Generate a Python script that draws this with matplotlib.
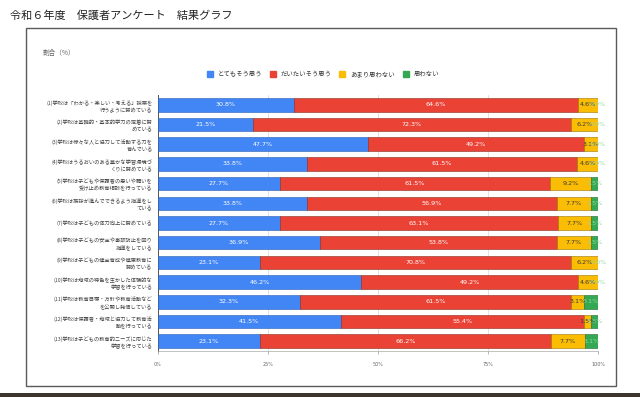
import matplotlib
matplotlib.use("Agg")
import matplotlib.pyplot as plt
from matplotlib.lines import Line2D
from matplotlib.patches import Rectangle
import numpy as np

plt.rcParams['font.family'] = ['Noto Sans CJK JP', 'DejaVu Sans']

title = "令和６年度　保護者アンケート　結果グラフ"
categories = [
    "(1)学校は「わかる・楽しい・考える」授業を\n行うように努めている",
    "(2)学校は基礎的・基本的学力の定着に努\nめている",
    "(3)学校は様々な人と協力して活動する力を\n育んでいる",
    "(4)学校はうるおいのある豊かな学習環境づ\nくりに努めている",
    "(5)学校は子どもや保護者の思いや願いを\n受け止め教育相談を行っている",
    "(6)学校は挨拶が進んでできるよう指導をし\nている",
    "(7)学校は子どもの体力向上に努めている",
    "(8)学校は子どもの安全や事故防止を図り\n指導をしている",
    "(9)学校は子どもの健全育成や健康教育に\n努めている",
    "(10)学校は地域の特色を生かした体験的な\n学習を行っている",
    "(11)学校は教育目標・方針や教育活動など\nを公開し発信している",
    "(12)学校は保護者・地域と協力して教育活\n動を行っている",
    "(13)学校は子どもの教育的ニーズに応じた\n学習を行っている",
]
series_names = ["とてもそう思う", "だいたいそう思う", "あまり思わない", "思わない"]
very = [30.8, 21.5, 47.7, 33.8, 27.7, 33.8, 27.7, 36.9, 23.1, 46.2, 32.3, 41.5, 23.1]
mostly = [64.6, 72.3, 49.2, 61.5, 61.5, 56.9, 63.1, 53.8, 70.8, 49.2, 61.5, 55.4, 66.2]
notmuch = [4.6, 6.2, 3.1, 4.6, 9.2, 7.7, 7.7, 7.7, 6.2, 4.6, 3.1, 1.5, 7.7]
notatall = [0.0, 0.0, 0.0, 0.0, 1.5, 1.5, 1.5, 1.5, 0.0, 0.0, 3.1, 1.5, 3.1]
xticks = [0, 25, 50, 75, 100]
xticklabels = ["0%", "25%", "50%", "75%", "100%"]

colors = ["#4285F4", "#EA4335", "#FBBC04", "#34A853"]
edgecols = ["#2a5db0", "#8a2a20", "#9a7500", "#1f6b33"]
label_colors = ["white", "white", "#3a3a3a", "#8fd9a0"]

W, H = 640, 397
fig = plt.figure(figsize=(W/100, H/100), dpi=100)

# frame
fig.patches.append(Rectangle((26/W, 1-386/H), (616-26)/W, (386-28)/H,
                             transform=fig.transFigure, fill=False,
                             edgecolor="#5a5a5a", linewidth=1.0))
fig.patches.append(Rectangle((0, 0), 1, 4/H, transform=fig.transFigure,
                             facecolor="#3b352d", edgecolor="none"))

fig.text(10/W, 1-16/H, title, fontsize=8, color="#222222", va="center", ha="left")
fig.text(43/W, 1-53/H, "割合（%）", fontsize=4.8, color="#666666", va="center", ha="left")

ax = fig.add_axes([158/W, 1-351/H, (598-158)/W, (351-95)/H])
y = np.arange(len(categories))
data = [very, mostly, notmuch, notatall]
left = np.zeros(len(categories))
for i, vals in enumerate(data):
    vals = np.array(vals)
    ax.barh(y, vals, left=left, height=0.69, color=colors[i],
            edgecolor=edgecols[i], linewidth=0.4, zorder=3)
    for j, v in enumerate(vals):
        ax.text(left[j] + v/2, y[j], f"{v:.1f}%", ha="center", va="center",
                fontsize=4.6, color=label_colors[i], zorder=4,
                family=['DejaVu Sans'])
    left += vals

ax.set_xlim(0, 100)
ax.set_ylim(len(categories)-0.5, -0.5)
ax.set_yticks(y)
ax.set_yticklabels(categories, fontsize=3.8, color="#444444", linespacing=1.45)
ax.set_xticks(xticks)
ax.set_xticklabels(xticklabels, fontsize=3.5, color="#666666", family=['DejaVu Sans'])
ax.tick_params(axis='y', length=0, pad=4)
ax.tick_params(axis='x', length=2, width=0.5, color="#999999", pad=6)
ax.grid(axis='x', color="#dddddd", linewidth=0.6, zorder=0)
for s in ["top", "right"]:
    ax.spines[s].set_visible(False)
ax.spines["left"].set_color("#555555")
ax.spines["left"].set_linewidth(0.7)
ax.spines["bottom"].set_color("#aaaaaa")
ax.spines["bottom"].set_linewidth(0.5)

handles = [Line2D([0], [0], marker='s', linestyle='none', markersize=4,
                  markerfacecolor=c, markeredgecolor=c) for c in colors]
fig.legend(handles, series_names, loc="center", bbox_to_anchor=(321/W, 1-74/H),
           ncol=4, frameon=False, fontsize=4.6, handletextpad=0.2,
           columnspacing=0.7, labelcolor="#333333")

fig.savefig("out.png", dpi=100)
